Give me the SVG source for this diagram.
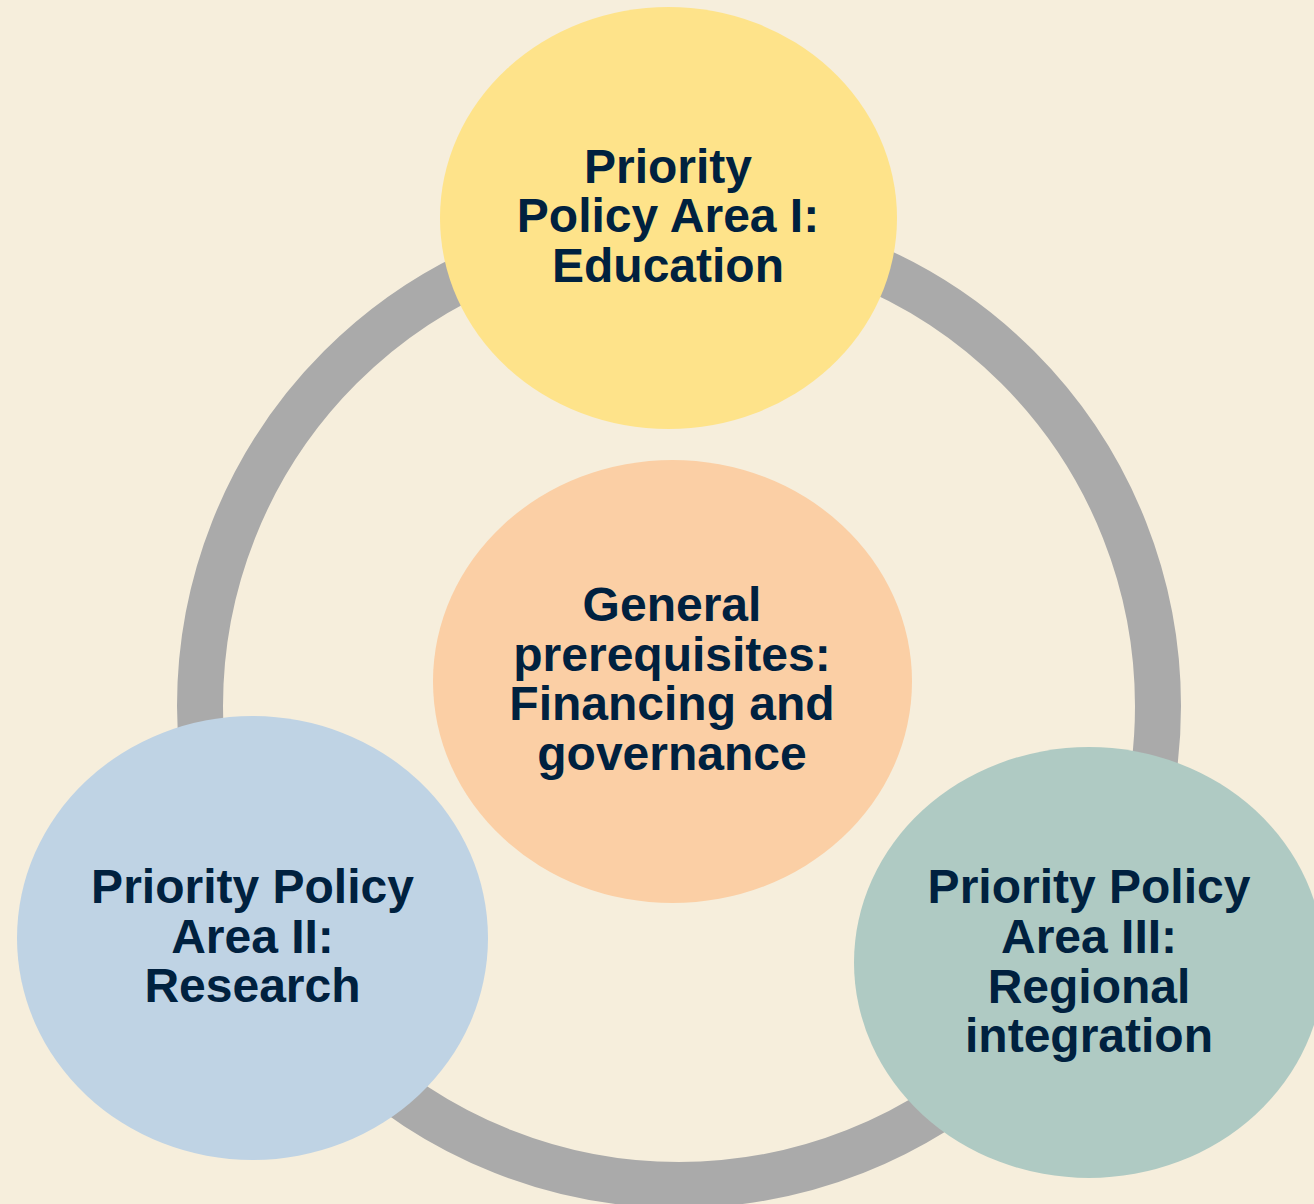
<svg xmlns="http://www.w3.org/2000/svg" width="1314" height="1204" viewBox="0 0 1314 1204">
  <style>
    .label { font-family: "Liberation Sans", Arial, sans-serif; font-weight: bold; font-size: 48px; fill: #00213F; text-anchor: middle; }
  </style>
  <rect x="0" y="0" width="1314" height="1204" fill="#F6EEDC"/>
  <!-- cycle ring linking the three policy areas -->
  <g id="connectors">
    <circle cx="679" cy="706" r="479" fill="none" stroke="#AAAAAA" stroke-width="46"/>
  </g>
  <g id="node-center">
    <ellipse cx="672.5" cy="681.5" rx="239.5" ry="221.5" fill="#FBCFA5"/>
    <text class="label" x="672" y="621">General</text>
    <text class="label" x="672" y="671">prerequisites:</text>
    <text class="label" x="672" y="720">Financing and</text>
    <text class="label" x="672" y="770">governance</text>
  </g>
  <g id="node-education">
    <ellipse cx="668.5" cy="218" rx="228.5" ry="211" fill="#FEE38A"/>
    <text class="label" x="668" y="183">Priority</text>
    <text class="label" x="668" y="232">Policy Area I:</text>
    <text class="label" x="668" y="282">Education</text>
  </g>
  <g id="node-research">
    <ellipse cx="252.5" cy="938" rx="235.5" ry="222" fill="#BFD3E4"/>
    <text class="label" x="252.5" y="903">Priority Policy</text>
    <text class="label" x="252.5" y="953">Area II:</text>
    <text class="label" x="252.5" y="1002">Research</text>
  </g>
  <g id="node-regional">
    <ellipse cx="1089" cy="962.5" rx="235" ry="215.5" fill="#AFCAC3"/>
    <text class="label" x="1089" y="903">Priority Policy</text>
    <text class="label" x="1089" y="953">Area III:</text>
    <text class="label" x="1089" y="1003">Regional</text>
    <text class="label" x="1089" y="1052">integration</text>
  </g>
</svg>
